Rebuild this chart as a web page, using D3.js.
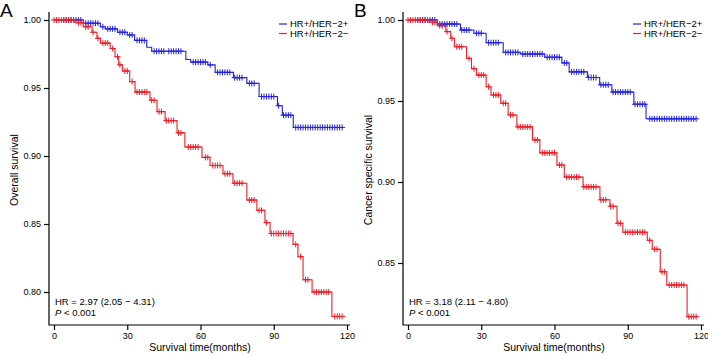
<!DOCTYPE html>
<html>
<head>
<meta charset="utf-8">
<script src="https://cdn.jsdelivr.net/npm/d3@7"></script>
<style>
  body { margin: 0; background: #fff; }
  svg text { font-family: "Liberation Sans", Arial, sans-serif; fill: #000; }
</style>
</head>
<body>
<div id="chart"></div>
<script>
// ---- data ----
const groups = ["HR+/HER\u22122+", "HR+/HER\u22122\u2212"];
const xTicks = [0, 30, 60, 90, 120];

// panel A: overall survival, step knots [time, survival after drop]
const osPosSteps = [[0,1.0],[12,0.9976],[19,0.995],[21,0.9935],[26,0.991],[30,0.989],[33,0.985],[38,0.980],[40,0.977],[54,0.971],[56,0.969],[63,0.967],[66,0.9615],[73.5,0.9576],[79,0.9534],[84,0.9437],[91.5,0.937],[93.5,0.930],[98,0.921]];
const osPosCensor = [4,5,6,7,8,9,10,11,13,14,15,16,17,18,20,22,23,24,25,27,28,29,31,32,34,35,36,37,41,42,43,44,45,47,48,49,50,51,52,57,58,59,60,61,62,64,67,68,69,70,71,72,74,75,76,77,80,81,82,85,86,87,88,89,90,92,94,95,96,97,99,100,101,102,103,104,105,106,107,108,109,110,111,112,113,114,115,116,117,118];
const osNegSteps = [[0,1.0],[8.6,0.998],[12,0.995],[15.6,0.991],[17.6,0.9865],[19,0.983],[23,0.979],[25,0.973],[26.5,0.967],[28,0.9625],[31,0.9547],[33.2,0.947],[39.3,0.941],[42.2,0.9326],[45.5,0.926],[50.4,0.917],[53.6,0.9066],[60.6,0.899],[63.9,0.893],[69.2,0.887],[73.3,0.880],[79,0.8676],[83.1,0.860],[86.4,0.851],[88.5,0.843],[97.9,0.835],[99.9,0.826],[102,0.809],[105.7,0.800],[113.8,0.782]];
const osNegCensor = [0,1,2,3,4,5,6,7,8,10,11,13,14,16,18,20,21,22,24,26,27,29,30,32,34,35,36,37,38,40,41,43,44,46,47,48,49,51,52,55,56,57,58,59,62,63,65,66,67,68,70,71,72,74,75,76,77,80,81,82,84,85,87,89,90,91,92,93,94,95,96,97,99,101,103,104,106.5,107.5,108.5,109.5,110.5,111.5,112.5,115,116,117,118];

// panel B: cancer specific survival
const cssPosSteps = [[0,1.0],[12,0.9975],[21.5,0.9938],[27,0.9918],[32,0.986],[39,0.980],[46,0.979],[56,0.977],[63,0.9735],[66,0.968],[73.5,0.9645],[78.5,0.960],[83.5,0.9555],[92.5,0.948],[97.5,0.939]];
const cssPosCensor = [4,5,6,7,8,9,10,11,13,14,15,16,17,18,19,20,22,23,24,25,28,29,30,33,34,35,36,37,40,41,42,43,44,45,47,48,49,50,51,52,53,54,55,57,58,59,60,61,62,64,65,67,68,69,70,71,72,74,75,76,77,79,80,81,82,84,85,86,87,88,89,90,91,93,94,95,96,97,99,100,101,102,103,104,105,106,107,108,109,110,111,112,113,114,115,116,117,118];
const cssNegSteps = [[0,1.0],[8.6,0.9986],[12,0.9965],[15.5,0.9928],[17.5,0.9887],[19,0.9835],[24,0.9763],[26,0.970],[28,0.966],[32,0.9588],[34,0.9537],[38,0.9486],[41,0.9414],[44.6,0.934],[51,0.926],[54,0.918],[61,0.9105],[64,0.903],[71.7,0.897],[78.6,0.889],[82.7,0.885],[85.6,0.8745],[88,0.869],[98,0.864],[100,0.8585],[103.3,0.8446],[106,0.8364],[114.3,0.8169]];
const cssNegCensor = [0,1,2,3,4,5,6,7,8,10,11,13,14,16,18,20,21,22,25,27,29,30,31,33,35,36,37,39,40,42,43,45,46,47,48,49,50,52,53,55,56,57,58,59,60,62,63,65,66,67,68,69,70,72,73,74,75,76,77,79,80,81,83,84,86,87,89,90,91,92,93,94,95,96,97,99,101,102,104,105,107,108,109,110,111,112,113,115,116,117,118];

const panels = [
  { letter: "A", left: 0, yLabel: "Overall survival", yTicks: [0.80,0.85,0.90,0.95,1.00], yBottomVal: 0.80, yBottomPx: 292,
    hr: "HR = 2.97 (2.05 \u2212 4.31)", series: [[osPosSteps, osPosCensor], [osNegSteps, osNegCensor]] },
  { letter: "B", left: 354, yLabel: "Cancer specific survival", yTicks: [0.85,0.90,0.95,1.00], yBottomVal: 0.85, yBottomPx: 263,
    hr: "HR = 3.18 (2.11 \u2212 4.80)", series: [[cssPosSteps, cssPosCensor], [cssNegSteps, cssNegCensor]] }
];

const colors = ["#2424dc", "#e8202a"];
const W = 708, H = 355;
const endTime = 118;

const svg = d3.select("#chart").append("svg")
  .attr("width", W).attr("height", H);

function survAt(steps, t) {
  let s = steps[0][1];
  steps.forEach(function(d) { if (d[0] <= t) s = d[1]; });
  return s;
}

panels.forEach(function(p) {
  const g = svg.append("g").attr("transform", "translate(" + p.left + ",0)");
  const frameL = 49, frameR = 350, frameT = 12, frameB = 325;

  const x = d3.scaleLinear().domain([0, 120]).range([54, 347]);
  const y = d3.scaleLinear().domain([p.yBottomVal, 1.0]).range([p.yBottomPx, 20]);

  // L-shaped frame
  g.append("path")
    .attr("d", "M" + frameL + "," + frameT + "V" + frameB + "H" + frameR)
    .attr("fill", "none").attr("stroke", "#000").attr("stroke-width", 1.2);

  // axes (domain path removed, frame drawn above)
  const xAxis = g.append("g").attr("transform", "translate(0," + frameB + ")")
    .call(d3.axisBottom(x).tickValues(xTicks).tickSize(5).tickPadding(3));
  const yAxis = g.append("g").attr("transform", "translate(" + frameL + ",0)")
    .call(d3.axisLeft(y).tickValues(p.yTicks).tickSize(5).tickPadding(3).tickFormat(d3.format(".2f")));
  [xAxis, yAxis].forEach(function(a) {
    a.select(".domain").remove();
    a.selectAll("line").attr("stroke-width", 1.2);
    a.selectAll("text").style("font-family", '"Liberation Sans", Arial, sans-serif').style("font-size", "9px");
  });

  // curves
  const line = d3.line().x(d => x(d[0])).y(d => y(d[1])).curve(d3.curveStepAfter);
  p.series.forEach(function(s, i) {
    const steps = s[0], censor = s[1];
    const pts = steps.concat([[endTime, steps[steps.length - 1][1]]]);
    g.append("path").datum(pts)
      .attr("d", line)
      .attr("fill", "none").attr("stroke", colors[i]).attr("stroke-width", 1.1);
    const arm = 3;
    g.append("g").selectAll("path").data(censor).join("path")
      .attr("d", function(t) {
        const cx = x(t), cy = y(survAt(steps, t));
        return "M" + (cx - arm) + "," + cy + "H" + (cx + arm) + "M" + cx + "," + (cy - arm) + "V" + (cy + arm);
      })
      .attr("stroke", colors[i]).attr("stroke-width", 1);
  });

  // legend
  groups.forEach(function(name, i) {
    const ly = 24 + i * 9.5;
    g.append("line").attr("x1", 279).attr("x2", 287).attr("y1", ly).attr("y2", ly)
      .attr("stroke", colors[i]).attr("stroke-width", 1.2);
    g.append("text").attr("x", 290).attr("y", ly + 3.3).style("font-size", "9.5px").text(name);
  });

  // annotation
  g.append("text").attr("x", 55).attr("y", 305).style("font-size", "9.5px").text(p.hr);
  const pt = g.append("text").attr("x", 55).attr("y", 315.5).style("font-size", "9.5px");
  pt.append("tspan").style("font-style", "italic").text("P");
  pt.append("tspan").text(" < 0.001");

  // axis titles
  g.append("text").attr("x", 200).attr("y", 351).attr("text-anchor", "middle")
    .style("font-size", "10.5px").text("Survival time(months)");
  g.append("text").attr("transform", "translate(18," + 170 + ") rotate(-90)")
    .attr("text-anchor", "middle").style("font-size", "10.5px").text(p.yLabel);

  // panel letter
  g.append("text").attr("x", 0).attr("y", 17).style("font-size", "19px").text(p.letter);
});
</script>
</body>
</html>
